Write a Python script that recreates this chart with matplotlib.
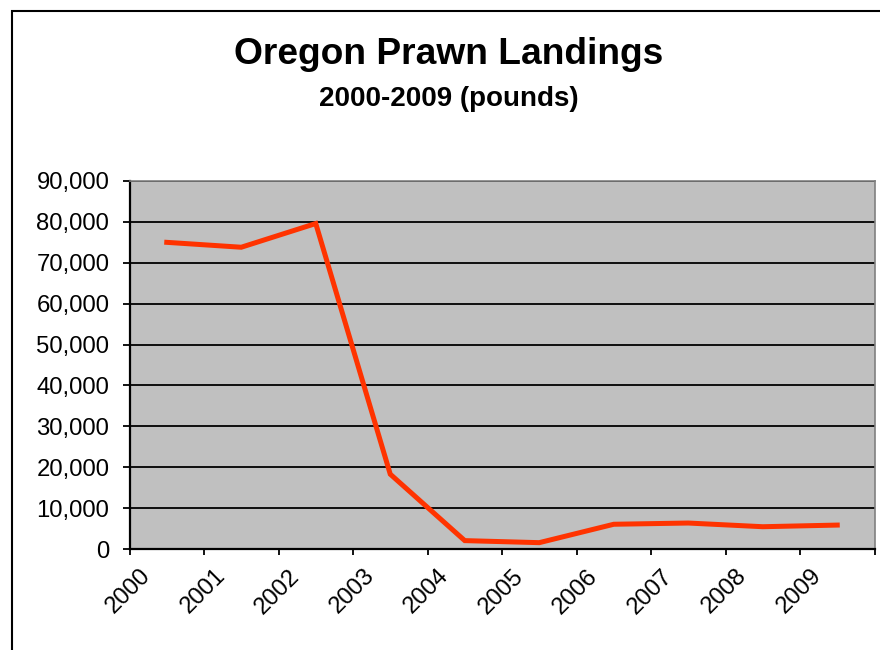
import matplotlib
matplotlib.use("Agg")
import matplotlib.pyplot as plt
import matplotlib.transforms as mtransforms
from matplotlib.patches import Rectangle
from matplotlib.ticker import FuncFormatter

years = ["2000", "2001", "2002", "2003", "2004", "2005", "2006", "2007", "2008", "2009"]
landings = [75000, 73800, 79600, 18300, 2050, 1550, 6050, 6350, 5450, 5850]
y_ticks = [0, 10000, 20000, 30000, 40000, 50000, 60000, 70000, 80000, 90000]

plt.rcParams['font.family'] = ['Liberation Sans', 'DejaVu Sans']

W, H = 880, 650
fig = plt.figure(figsize=(W / 100, H / 100), dpi=100)
fig.patch.set_facecolor("white")

# outer frame (only top/left visible)
fig.patches.append(Rectangle((11.5 / W, -0.1), 1.2, 1 - 11.5 / H + 0.1,
                             transform=fig.transFigure, fill=False,
                             edgecolor="black", linewidth=1.5, zorder=0))

left, right, top, bottom = 129.5, 874.5, 181, 549
ax = fig.add_axes([left / W, 1 - bottom / H, (right - left) / W, (bottom - top) / H])
ax.set_facecolor("#C0C0C0")

x = list(range(len(years)))
ax.plot(x, landings, color="#FF3300", linewidth=3.6, solid_joinstyle="miter", zorder=3)

ax.set_xlim(-0.5, len(years) - 0.5)
ax.set_ylim(0, 90000)
ax.set_yticks(y_ticks)
ax.yaxis.set_major_formatter(FuncFormatter(lambda v, p: f"{int(v):,}"))
ax.grid(axis="y", color="black", linewidth=1.3, zorder=1)
ax.set_axisbelow(True)

bounds = [i - 0.5 for i in range(len(years) + 1)]
ax.set_xticks(bounds)
ax.set_xticklabels(years + [""])

ax.tick_params(axis="y", direction="out", length=5, width=1.3, pad=9.5,
               labelsize=17.2, colors="black")
ax.tick_params(axis="x", direction="out", length=4, width=1.3, pad=13,
               labelsize=17.2, colors="black")

offset = mtransforms.ScaledTranslation(18 / 100, 0, fig.dpi_scale_trans)
for lab in ax.get_xticklabels():
    lab.set_rotation(45)
    lab.set_ha("right")
    lab.set_va("center")
    lab.set_rotation_mode("anchor")
    lab.set_transform(lab.get_transform() + offset)

for s in ["left", "bottom"]:
    ax.spines[s].set_color("black")
    ax.spines[s].set_linewidth(1.6)
for s in ["top", "right"]:
    ax.spines[s].set_color("#808080")
    ax.spines[s].set_linewidth(1.2)

fig.text(449 / W, 1 - 54 / H, "Oregon Prawn Landings", ha="center", va="center",
         fontsize=26.7, fontweight="bold")
fig.text(449 / W, 1 - 99 / H, "2000-2009 (pounds)", ha="center", va="center",
         fontsize=20, fontweight="bold")

fig.savefig("out.png", dpi=100, facecolor="white")
